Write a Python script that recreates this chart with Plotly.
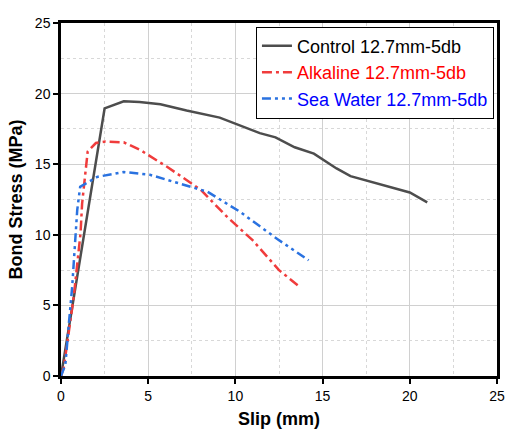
import plotly.graph_objects as go

control_slip = [0, 2.5, 3.6, 4.5, 5.7, 7.2, 9.1, 10.3, 11.4, 12.3, 13.4, 14.5, 15.8, 16.6, 17.5, 18.8, 20.0, 21.0]
control_stress = [0, 18.95, 19.45, 19.4, 19.25, 18.8, 18.3, 17.7, 17.2, 16.9, 16.2, 15.75, 14.7, 14.15, 13.85, 13.45, 13.0, 12.3]

alk_slip = [0, 0.16, 0.73, 1.12, 1.21, 1.53, 2.0, 2.55, 3.6, 4.55, 6.1, 8.0, 9.5, 11.0, 12.5, 13.6]
alk_stress = [0, 0.6, 5.6, 10.1, 12.2, 15.9, 16.5, 16.6, 16.55, 16.0, 14.8, 13.2, 11.3, 9.6, 7.5, 6.4]

sea_slip = [0, 0.25, 0.45, 0.64, 0.93, 1.1, 2.07, 3.6, 5.1, 6.8, 8.4, 10.3, 12.4, 14.2]
sea_stress = [0, 0.8, 3.7, 6.3, 11.75, 13.4, 14.1, 14.45, 14.25, 13.65, 13.05, 11.6, 9.7, 8.2]

FONT = "Liberation Sans, Arial"

fig = go.Figure()
fig.add_trace(go.Scatter(x=control_slip, y=control_stress, mode="lines",
                         name="Control 12.7mm-5db",
                         line=dict(color="#4d4d4d", width=2.5)))
fig.add_trace(go.Scatter(x=alk_slip, y=alk_stress, mode="lines",
                         name='<span style="color:#ff0000">Alkaline 12.7mm-5db</span>',
                         line=dict(color="#f03c3c", width=2.5, dash="10px,4px,3px,4px")))
fig.add_trace(go.Scatter(x=sea_slip, y=sea_stress, mode="lines",
                         name='<span style="color:#0000ff">Sea Water 12.7mm-5db</span>',
                         line=dict(color="#2a72e0", width=2.5, dash="9px,4px,3px,4px,3px,4px")))

axis_common = dict(
    showline=True, linecolor="black", linewidth=2.5, mirror=True,
    ticks="outside", ticklen=5, tickwidth=2, tickcolor="black",
    showgrid=True, gridcolor="#d0d0d0", gridwidth=1,
    zeroline=False, automargin=False,
    tickfont=dict(family=FONT, size=14, color="black"),
    minor=dict(dtick=2.5, showgrid=True, gridcolor="#d8d8d8", griddash="dot", gridwidth=1, ticks=""),
)

fig.update_xaxes(range=[0, 25], dtick=5, tick0=0,
                 title=dict(text="<b>Slip (mm)</b>", font=dict(family=FONT, size=18, color="black"), standoff=10),
                 **axis_common)
fig.update_yaxes(range=[0, 25], dtick=5, tick0=0,
                 title=dict(text="<b>Bond Stress (MPa)</b>", font=dict(family=FONT, size=18, color="black"), standoff=8),
                 **axis_common)

fig.update_layout(
    width=506, height=433,
    margin=dict(l=61, r=9, t=23, b=57),
    plot_bgcolor="white", paper_bgcolor="white",
    font=dict(family=FONT, color="black"),
    legend=dict(x=0.993, y=0.99, xanchor="right", yanchor="top",
                bgcolor="white", bordercolor="black", borderwidth=1,
                font=dict(family=FONT, size=18, color="black"),
                tracegroupgap=0, itemwidth=30),
    showlegend=True,
)

fig.write_html("out.html")
